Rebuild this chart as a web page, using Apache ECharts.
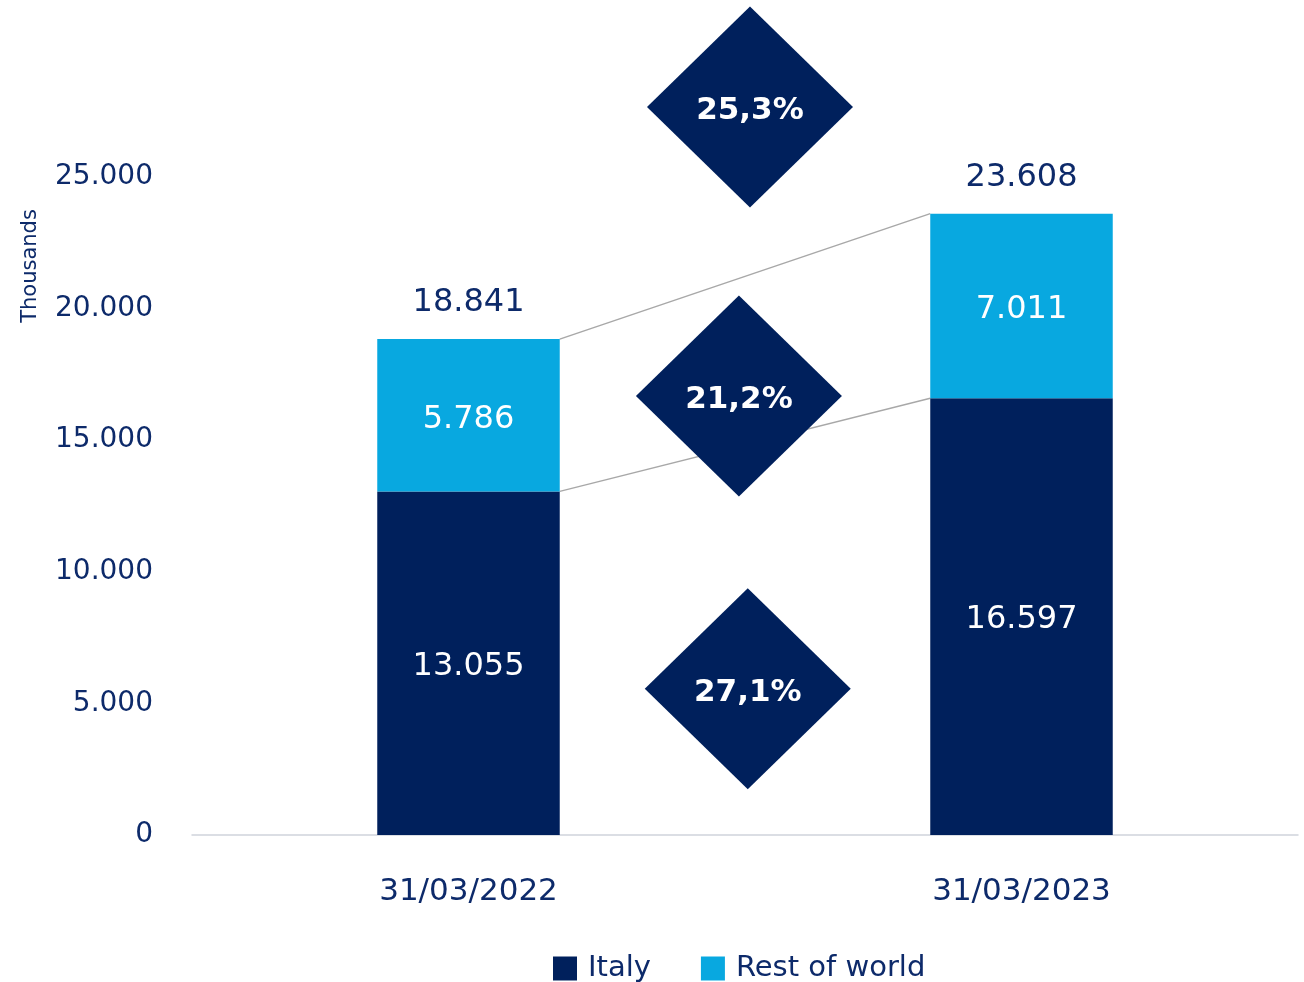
<!DOCTYPE html>
<html><head><meta charset="utf-8">
<script src="https://cdn.jsdelivr.net/npm/echarts@6/dist/echarts.min.js"></script>
<style>html,body{margin:0;padding:0;background:#fff}#c{width:1304px;height:982px}</style>
</head><body><div id="c"></div>
<script>
const categories = ['31/03/2022', '31/03/2023'];
const italy = [13055, 16597];
const restOfWorld = [5786, 7011];
const totals = [18841, 23608];
const growthLabels = ['25,3%', '21,2%', '27,1%'];
// annotation placement of the growth diamonds: [x on 0..2 category span, y value]
const growthPos = [[1.009, 27660], [0.989, 16680], [1.005, 5560]];
const yTicks = [0, 5000, 10000, 15000, 20000, 25000];

const NAVY = '#00205c', BLUE = '#08a8e0', TXT = '#0d2a6a';
const FONT = '"DejaVu Sans", "Noto Sans", sans-serif';
const fmt = v => v.toLocaleString('de-DE');

const chart = echarts.init(document.getElementById('c'));
const barW = '33%';
const edgeL = 0.5 + 0.165, edgeR = 1.5 - 0.165;
chart.setOption({
  animation: false,
  grid: { left: 192, right: 6, top: 45.4, bottom: 147 },
  legend: {
    data: ['Italy', 'Rest of world'], top: 949, left: 548,
    itemWidth: 24, itemHeight: 24, itemGap: 50, icon: 'rect',
    textStyle: { color: TXT, fontSize: 29, fontFamily: FONT, padding: [0, 0, 0, 6] }
  },
  graphic: [{
    type: 'text', rotation: Math.PI / 2, x: 31, y: 266,
    style: { text: 'Thousands', fill: TXT, font: '21px ' + FONT, textAlign: 'center', textVerticalAlign: 'middle' }
  }],
  xAxis: [{
    type: 'category', data: categories,
    axisLine: { lineStyle: { color: '#d0d4dc', width: 1.5 } },
    axisTick: { show: false },
    axisLabel: { color: TXT, fontSize: 31, fontFamily: FONT, margin: 41 }
  }, {
    type: 'value', min: 0, max: 2, show: false
  }],
  yAxis: {
    type: 'value', min: 0, max: 30000, interval: 5000,
    axisLine: { show: false }, axisTick: { show: false }, splitLine: { show: false },
    axisLabel: {
      color: TXT, fontSize: 28, fontFamily: FONT, margin: 39,
      formatter: v => yTicks.includes(v) ? fmt(v) : ''
    }
  },
  series: [
    {
      name: 'Italy', type: 'bar', stack: 's', data: italy, barWidth: barW,
      itemStyle: { color: NAVY },
      label: { show: true, position: 'inside', offset: [0, 3], color: '#fff', fontSize: 32, fontFamily: FONT, formatter: p => fmt(p.value) }
    },
    {
      name: 'Rest of world', type: 'bar', stack: 's', data: restOfWorld, barWidth: barW,
      itemStyle: { color: BLUE },
      label: { show: true, position: 'inside', offset: [0, 4], color: '#fff', fontSize: 32, fontFamily: FONT, formatter: p => fmt(p.value) }
    },
    {
      name: 'Total', type: 'bar', stack: 's', data: totals.map(() => 0), barWidth: barW,
      itemStyle: { color: 'transparent' },
      label: { show: true, position: 'top', distance: 20, color: TXT, fontSize: 32, fontFamily: FONT,
        formatter: p => fmt(totals[p.dataIndex]) }
    },
    {
      type: 'line', xAxisIndex: 1, symbol: 'none', silent: true, z: 1,
      lineStyle: { color: '#a8a8a8', width: 1.5 },
      data: [[edgeL, totals[0]], [edgeR, totals[1]]]
    },
    {
      type: 'line', xAxisIndex: 1, symbol: 'none', silent: true, z: 1,
      lineStyle: { color: '#a8a8a8', width: 1.5 },
      data: [[edgeL, italy[0]], [edgeR, italy[1]]]
    },
    {
      type: 'scatter', xAxisIndex: 1, symbol: 'diamond', symbolSize: [206, 201], z: 5, clip: false,
      itemStyle: { color: NAVY, opacity: 1 },
      label: { show: true, position: 'inside', offset: [0, 4], color: '#fff', fontSize: 31, fontWeight: 'bold', fontFamily: FONT,
        formatter: p => growthLabels[p.dataIndex] },
      data: growthPos
    }
  ]
});
</script></body></html>
